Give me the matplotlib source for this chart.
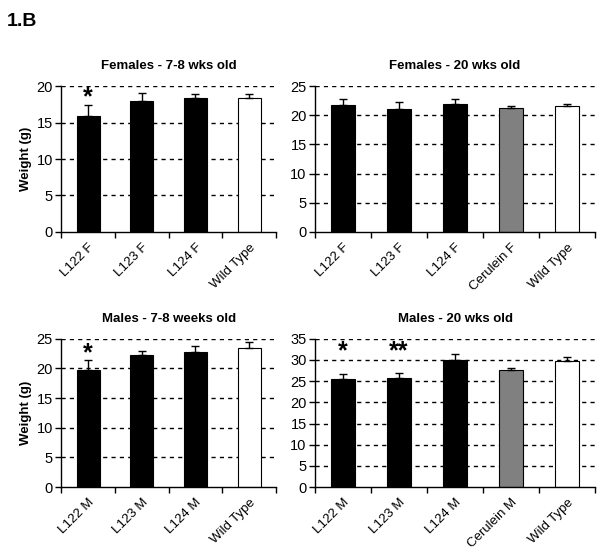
import numpy as np
import matplotlib
matplotlib.use("Agg")
import matplotlib.pyplot as plt

plt.rcParams['font.family'] = ['Liberation Sans', 'DejaVu Sans']

# data
f78_labels = ["L122 F", "L123 F", "L124 F", "Wild Type"]
f78_vals = [15.9, 18.0, 18.3, 18.4]
f78_err = [1.45, 1.1, 0.55, 0.5]
f78_colors = ["black", "black", "black", "white"]

f20_labels = ["L122 F", "L123 F", "L124 F", "Cerulein F", "Wild Type"]
f20_vals = [21.8, 21.0, 22.0, 21.3, 21.5]
f20_err = [1.0, 1.2, 0.7, 0.35, 0.45]
f20_colors = ["black", "black", "black", "#808080", "white"]

m78_labels = ["L122 M", "L123 M", "L124 M", "Wild Type"]
m78_vals = [19.8, 22.3, 22.8, 23.5]
m78_err = [1.65, 0.6, 1.0, 1.0]
m78_colors = ["black", "black", "black", "white"]

m20_labels = ["L122 M", "L123 M", "L124 M", "Cerulein M", "Wild Type"]
m20_vals = [25.4, 25.65, 29.9, 27.55, 29.85]
m20_err = [1.3, 1.25, 1.5, 0.55, 0.75]
m20_colors = ["black", "black", "black", "#808080", "white"]


def panel(ax, title, labels, vals, err, colors, ymax, stars, ylabel=False):
    x = np.arange(len(labels))
    ax.set_axisbelow(True)
    for t in range(0, ymax + 1, 5)[1:]:
        ax.axhline(t, color="black", lw=1, ls=(0, (3, 3)), zorder=0)
    ax.bar(x, vals, width=0.43, color=colors, edgecolor="black", lw=0.8, zorder=2)
    ax.errorbar(x, vals, yerr=[np.zeros(len(vals)), err], fmt="none",
                ecolor="black", elinewidth=1, capsize=3, capthick=1, zorder=3)
    for i, s, y in stars:
        ax.text(i, y, s, ha="center", va="center", fontsize=18, fontweight="bold")
    ax.set_xlim(-0.5, len(labels) - 0.5)
    ax.set_ylim(0, ymax)
    ax.set_yticks(range(0, ymax + 1, 5))
    ax.set_xticks(x)
    ax.set_xticklabels(labels, rotation=45, ha="right", rotation_mode="anchor", fontsize=9.5)
    ax.set_xticks(np.arange(-0.5, len(labels)), minor=True)
    ax.tick_params(axis="x", which="major", length=0, pad=7)
    ax.tick_params(axis="x", which="minor", length=4, width=1, direction="out")
    ax.tick_params(axis="y", length=4, width=1, labelsize=10.5, pad=2)
    for sp in ["top", "right"]:
        ax.spines[sp].set_visible(False)
    for sp in ["left", "bottom"]:
        ax.spines[sp].set_linewidth(1)
    ax.set_title(title, fontsize=9.5, fontweight="bold", pad=12)
    if ylabel:
        ax.set_ylabel("Weight (g)", fontsize=9.5, fontweight="bold", labelpad=3)


fig = plt.figure(figsize=(6.0, 5.55), dpi=100)
ax1 = fig.add_axes([0.102, 0.582, 0.358, 0.263])
ax2 = fig.add_axes([0.525, 0.582, 0.467, 0.263])
ax3 = fig.add_axes([0.102, 0.1225, 0.358, 0.267])
ax4 = fig.add_axes([0.525, 0.1225, 0.467, 0.267])

panel(ax1, "Females - 7-8 wks old", f78_labels, f78_vals, f78_err, f78_colors, 20,
      [(0, "*", 18.4)], ylabel=True)
panel(ax2, "Females - 20 wks old", f20_labels, f20_vals, f20_err, f20_colors, 25, [])
panel(ax3, "Males - 7-8 weeks old", m78_labels, m78_vals, m78_err, m78_colors, 25,
      [(0, "*", 22.6)], ylabel=True)
panel(ax4, "Males - 20 wks old", m20_labels, m20_vals, m20_err, m20_colors, 35,
      [(0, "*", 32.0), (1, "**", 32.0)])

fig.text(0.012, 0.962, "1.B", fontsize=14, fontweight="bold", va="center")

fig.savefig("out.png", dpi=100, facecolor="white")
